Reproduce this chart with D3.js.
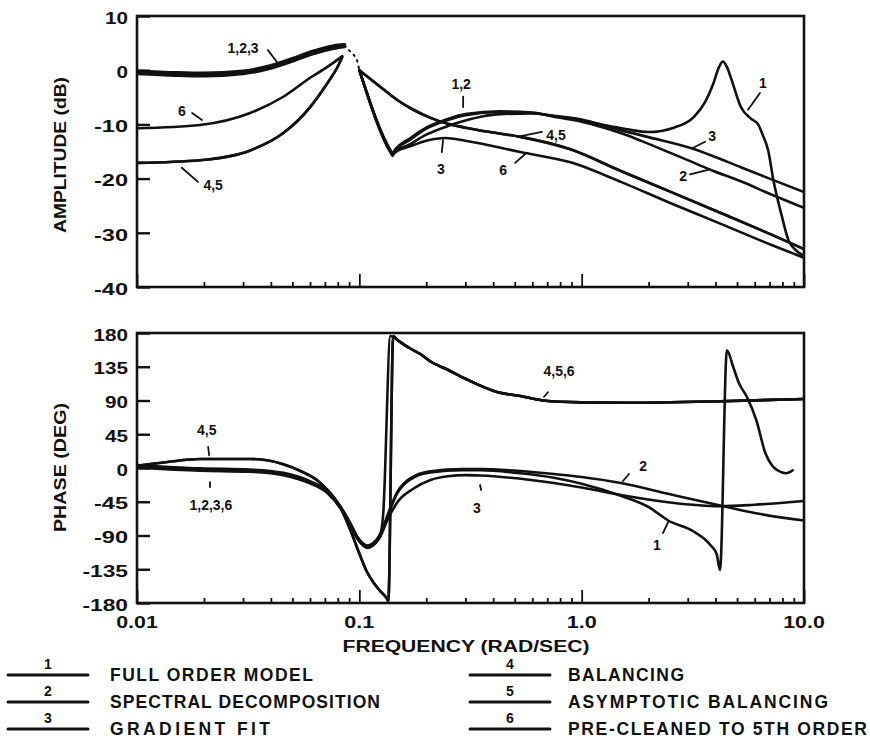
<!DOCTYPE html>
<html>
<head>
<meta charset="utf-8">
<script src="https://cdn.jsdelivr.net/npm/d3@7"></script>
<style>
  body { margin: 0; background: #fff; }
  svg text { font-family: "Liberation Sans", Arial, sans-serif; font-weight: bold; fill: #111; }
</style>
</head>
<body>
<svg id="chart" width="870" height="744"></svg>
<script>
// ---------------- axis values ----------------
const freqMajor = [0.01, 0.1, 1, 10];
const freqLabels = ["0.01", "0.1", "1.0", "10.0"];
const ampTicks = [10, 0, -10, -20, -30, -40];
const phaseTicks = [180, 135, 90, 45, 0, -45, -90, -135, -180];

// ---------------- amplitude (dB) vs frequency (rad/sec) ----------------
// null marks a break in the drawn curve
const ampFull = [[0.01,-0.4],[0.015,-0.7],[0.02,-0.8],[0.03,-0.4],[0.04,0.6],[0.05,1.9],[0.06,3.1],[0.07,3.9],[0.08,4.4],[0.086,4.6], null,
  [0.1,0.0],[0.139,-15.2],[0.141,-15.6],[0.143,-15.2],[0.17,-12.8],[0.2,-10.8],[0.25,-9.2],[0.3,-8.3],[0.43,-7.7],[0.6,-7.9],[0.75,-8.5],[1.0,-9.2],[1.26,-10.1],[1.6,-10.9],[2.0,-11.4],[2.6,-10.6],[3.2,-8.6],[3.6,-5.8],[3.9,-2.6],[4.15,0.6],[4.32,1.6],[4.5,0.6],[4.7,-1.5],[5.2,-6.8],[5.8,-9.0],[6.2,-9.9],[6.5,-11.8],[6.9,-14.8],[7.3,-20.5],[7.9,-26.5],[8.5,-31.3],[9.3,-33.4],[10,-34.2]];
const ampSpectral = [[0.01,-0.1],[0.015,-0.4],[0.02,-0.5],[0.03,-0.1],[0.04,0.9],[0.05,2.2],[0.06,3.4],[0.07,4.2],[0.08,4.7],[0.086,4.8], null,
  [0.1,0.0],[0.139,-15.0],[0.141,-15.4],[0.143,-15.0],[0.17,-12.5],[0.2,-10.6],[0.25,-9.0],[0.3,-8.1],[0.43,-7.6],[0.6,-7.8],[0.75,-8.6],[1.0,-9.5],[1.26,-10.6],[1.6,-12.0],[2.0,-13.6],[3.0,-16.6],[3.81,-18.4],[5.2,-20.5],[7.0,-22.8],[10,-25.4]];
const ampGradient = [[0.01,-0.7],[0.015,-1.0],[0.02,-1.1],[0.03,-0.7],[0.04,0.3],[0.05,1.6],[0.06,2.8],[0.07,3.6],[0.08,4.1],[0.086,4.3], null,
  [0.1,0.0],[0.139,-15.4],[0.141,-15.8],[0.143,-15.4],[0.17,-13.6],[0.2,-11.9],[0.25,-10.3],[0.3,-9.3],[0.36,-8.5],[0.43,-8.1],[0.6,-8.0],[0.75,-8.4],[1.0,-9.1],[1.26,-10.3],[1.98,-12.3],[3.17,-14.5],[3.81,-15.7],[5.2,-17.9],[7.0,-20.0],[10,-22.5]];
const ampBalancing = [[0.01,-17.1],[0.0192,-16.6],[0.0323,-14.8],[0.0455,-11.6],[0.0601,-6.8],[0.0718,-2.4],[0.0796,0.5],[0.0837,2.4], null,
  [0.1,0.0],[0.1245,-3.1],[0.148,-5.5],[0.175,-7.3],[0.209,-8.8],[0.25,-9.9],[0.3,-10.6],[0.4,-11.5],[0.53,-12.3],[0.89,-14.6],[1.5,-18.6],[2.5,-22.4],[4.2,-26.3],[7.1,-30.3],[10,-33.0]];
const ampAsymptotic = [[0.01,-17.1],[0.0192,-16.6],[0.0323,-14.8],[0.0455,-11.6],[0.0601,-6.8],[0.0718,-2.4],[0.0796,0.5],[0.0837,2.4], null,
  [0.1,0.0],[0.1245,-3.1],[0.148,-5.5],[0.175,-7.3],[0.209,-8.8],[0.25,-9.9],[0.3,-10.6],[0.4,-11.5],[0.53,-12.3],[0.89,-14.6],[1.5,-18.6],[2.5,-22.4],[4.2,-26.3],[7.1,-30.3],[10,-33.0]];
const ampPreCleaned = [[0.01,-10.7],[0.0192,-10.1],[0.0323,-7.9],[0.0455,-4.9],[0.0601,-1.4],[0.0718,0.6],[0.0796,1.9],[0.0837,2.6], null,
  [0.1,0.0],[0.139,-15.2],[0.141,-15.6],[0.143,-15.3],[0.17,-14.0],[0.2,-13.0],[0.244,-12.5],[0.3,-13.0],[0.53,-15.1],[0.89,-17.0],[1.5,-20.6],[2.5,-24.5],[4.2,-28.3],[7.1,-32.2],[10,-34.6]];
// faint dotted stretch across the resonance
const ampResonanceGap = [[0.086,4.6],[0.0893,3.8],[0.094,2.9],[0.098,1.6],[0.1,0.0]];

// ---------------- phase (deg) vs frequency (rad/sec) ----------------
const phFull = [[0.01,2],[0.0192,-2],[0.0323,-3.5],[0.0455,-8],[0.06,-19],[0.0718,-32],[0.082,-52],[0.0915,-76],[0.098,-93],[0.104,-102],[0.108,-105],[0.115,-102],[0.124,-90],[0.1335,-66],[0.14,-50],[0.148,-34],[0.16,-21],[0.18,-11],[0.209,-6],[0.29,-3],[0.35,-3],[0.53,-7],[0.75,-13],[1.0,-21],[1.5,-37],[2.0,-52],[2.45,-70],[3.2,-85],[3.8,-103],[4.05,-115],[4.19,-136],[4.5,157],[4.8,135],[5.1,113],[5.53,95],[6.1,64],[6.7,20],[7.2,3],[7.6,-3],[8.3,-7],[8.9,-3]];
const phSpectral = [[0.01,4],[0.0192,-0.5],[0.0323,-2],[0.0455,-6.5],[0.06,-17.5],[0.0718,-30.5],[0.082,-50.5],[0.0915,-74.5],[0.098,-91.5],[0.104,-100.5],[0.108,-103.5],[0.115,-100.5],[0.124,-88],[0.1335,-64],[0.14,-48],[0.148,-32],[0.16,-19.5],[0.18,-9.5],[0.209,-4.5],[0.29,-1.5],[0.35,-1.5],[0.53,-4],[0.75,-8],[1.0,-12],[1.5,-20],[2.5,-35],[4.2,-50],[6.0,-60],[10,-70]];
const phGradient = [[0.01,0.5],[0.0192,-3.5],[0.0323,-5],[0.0455,-9.5],[0.06,-20.5],[0.0718,-33.5],[0.082,-53.5],[0.0915,-77.5],[0.098,-94.5],[0.104,-103.5],[0.108,-106.5],[0.115,-103.5],[0.124,-92],[0.1335,-70],[0.14,-58],[0.148,-46],[0.174,-28],[0.209,-16],[0.25,-11],[0.3,-9.5],[0.35,-10],[0.59,-16],[0.75,-20],[1.0,-26],[1.5,-36],[2.5,-46],[4.2,-51],[6.0,-49],[10,-44]];
const phBalancing = [[0.01,3],[0.0137,8],[0.0192,12],[0.0323,12],[0.0455,5],[0.0543,-4],[0.065,-17],[0.0718,-29],[0.082,-52],[0.0915,-84],[0.1,-114],[0.108,-138],[0.116,-153],[0.124,-164],[0.1335,-175],[0.135,-178],[0.142,176],[0.148,171],[0.17,159],[0.188,152],[0.209,142],[0.25,131],[0.3,119],[0.42,101],[0.53,96],[0.67,90],[1.0,87.5],[1.5,87],[4.2,89],[10,92]];
const phAsymptotic = [[0.01,3],[0.0137,8],[0.0192,12],[0.0323,12],[0.0455,5],[0.0543,-4],[0.065,-17],[0.0718,-29],[0.082,-52],[0.0915,-84],[0.1,-114],[0.108,-138],[0.116,-153],[0.124,-164],[0.1335,-175],[0.135,-178],[0.142,176],[0.148,171],[0.17,159],[0.188,152],[0.209,142],[0.25,131],[0.3,119],[0.42,101],[0.53,96],[0.67,90],[1.0,87.5],[1.5,87],[4.2,89],[10,92]];
const phPreCleaned = [[0.01,2],[0.0192,-2],[0.0323,-3.5],[0.0455,-8],[0.06,-19],[0.0718,-32],[0.082,-52],[0.0915,-76],[0.098,-93],[0.104,-102],[0.108,-105],[0.115,-102],[0.124,-90],[0.128,-62],[0.138,176],[0.148,171],[0.17,159],[0.188,152],[0.209,142],[0.25,131],[0.3,119],[0.42,101],[0.53,96],[0.67,90],[1.0,87.5],[1.5,87],[4.2,89],[10,92]];

// ---------------- legend ----------------
const methodIds = ["1", "2", "3", "4", "5", "6"];
const methodNames = ["FULL ORDER MODEL", "SPECTRAL DECOMPOSITION", "GRADIENT FIT",
                     "BALANCING", "ASYMPTOTIC BALANCING", "PRE-CLEANED TO 5TH ORDER"];
const methodNameWidths = [203, 270, 160, 116, 260, 299];

// ---------------- curve call-outs (frequency, value) ----------------
const ampCallouts = [
  { t: "1,2,3", f: 0.0300, v: 3.2,   lead: [[0.0388, 3.7], [0.0426, 1.5]] },
  { t: "6",     f: 0.0159, v: -8.5,  lead: [[0.0177, -7.9], [0.0196, -9.2]] },
  { t: "4,5",   f: 0.0220, v: -22.1, lead: [[0.0159, -18.0], [0.0188, -20.6]] },
  { t: "1,2",   f: 0.287,  v: -3.5,  lead: [[0.293, -4.9], [0.293, -6.8]] },
  { t: "3",     f: 0.233,  v: -19.2, lead: [[0.238, -12.9], [0.235, -15.1]] },
  { t: "6",     f: 0.443,  v: -19.3, lead: [[0.502, -17.1], [0.556, -15.5]] },
  { t: "4,5",   f: 0.767,  v: -12.9, lead: [[0.663, -11.4], [0.512, -12.3]] },
  { t: "3",     f: 3.86,   v: -13.1, lead: [[3.59, -13.2], [3.14, -14.4]] },
  { t: "2",     f: 2.86,   v: -20.4, lead: [[3.07, -19.2], [3.70, -18.4]] },
  { t: "1",     f: 6.54,   v: -3.3,  lead: [[6.34, -4.2], [5.60, -7.3]] }
];
const phaseCallouts = [
  { t: "4,5",     f: 0.0206, v: 44,   lead: [[0.0209, 28], [0.0211, 17]] },
  { t: "1,2,3,6", f: 0.0215, v: -56,  lead: [[0.0213, -18.7], [0.0213, -25.3]] },
  { t: "4,5,6",   f: 0.791,  v: 122.7, lead: [[0.706, 101], [0.677, 95]] },
  { t: "3",       f: 0.338,  v: -60,  lead: [[0.349, -22.7], [0.353, -29.3]] },
  { t: "2",       f: 1.89,   v: -4,   lead: [[1.633, -8], [1.534, -17.3]] },
  { t: "1",       f: 2.18,   v: -109, lead: [[2.32, -86.7], [2.45, -72]] }
];

// ---------------- drawing ----------------
const ink = "#111";
const left = 137, right = 804;
const ampTop = 16, ampBottom = 287, phTop = 333, phBottom = 603;

const svg = d3.select("#chart");
svg.append("rect").attr("width", 870).attr("height", 744).attr("fill", "#fff");

const x = d3.scaleLog().domain([0.01, 10]).range([left, right]);
const yA = d3.scaleLinear().domain([-40, 10]).range([ampBottom, ampTop]);
const yP = d3.scaleLinear().domain([-180, 180]).range([phBottom, phTop]);

const charW = { "-": 11, ".": 7 };
const numWidth = s => Array.from(s).reduce((a, c) => a + (charW[c] || 11.5), 0);

const defs = svg.append("defs");
[["clipAmp", ampTop, ampBottom], ["clipPh", phTop, phBottom]].forEach(([id, t, b]) => {
  defs.append("clipPath").attr("id", id).append("rect")
    .attr("x", left).attr("y", t - 2).attr("width", right - left).attr("height", b - t + 4);
});

function drawPanel(y, ticks, top, bottom, clipId, series, gap, callouts) {
  // curves
  const line = d3.line().defined(d => d !== null)
    .x(d => x(d[0])).y(d => y(d[1])).curve(d3.curveMonotoneX);
  const g = svg.append("g").attr("clip-path", `url(#${clipId})`);
  series.forEach(s => {
    g.append("path").attr("d", line(s)).attr("fill", "none").attr("stroke", ink)
      .attr("stroke-width", 2.6).attr("stroke-linejoin", "round").attr("stroke-linecap", "round");
  });
  if (gap) {
    g.append("path").attr("d", line(gap)).attr("fill", "none").attr("stroke", ink)
      .attr("stroke-width", 2).attr("stroke-dasharray", "1.5,5").attr("stroke-linecap", "round");
  }

  // left ticks and labels
  const ay = svg.append("g").attr("transform", `translate(${left},0)`)
    .call(d3.axisLeft(y).tickValues(ticks).tickSize(-13).tickPadding(9).tickFormat(d => String(d)));
  ay.attr("font-family", null).attr("font-size", null);
  ay.select(".domain").remove();
  ay.selectAll(".tick line").attr("stroke", ink).attr("stroke-width", 2.4);
  ay.selectAll(".tick text").attr("fill", ink).attr("font-size", 16).attr("dy", "0.45em")
    .attr("textLength", d => numWidth(String(d))).attr("lengthAdjust", "spacingAndGlyphs");

  // bottom log ticks
  const isMajor = d => Math.abs(Math.log10(d) - Math.round(Math.log10(d))) < 1e-6;
  const ax = svg.append("g").attr("transform", `translate(0,${bottom})`)
    .call(d3.axisBottom(x).tickValues(x.ticks()).tickSize(-5).tickFormat(""));
  ax.select(".domain").remove();
  ax.selectAll(".tick line").attr("stroke", ink).attr("stroke-width", 1.8)
    .attr("y2", d => isMajor(d) ? -13 : -5);

  // frame
  svg.append("rect").attr("x", left).attr("y", top).attr("width", right - left).attr("height", bottom - top)
    .attr("fill", "none").attr("stroke", ink).attr("stroke-width", 2.6);

  // call-outs
  callouts.forEach(c => {
    svg.append("text").attr("x", x(c.f)).attr("y", y(c.v)).attr("text-anchor", "middle")
      .attr("font-size", 14).text(c.t);
    svg.append("line").attr("x1", x(c.lead[0][0])).attr("y1", y(c.lead[0][1]))
      .attr("x2", x(c.lead[1][0])).attr("y2", y(c.lead[1][1]))
      .attr("stroke", ink).attr("stroke-width", 1.8).attr("stroke-linecap", "round");
  });
}

drawPanel(yA, ampTicks, ampTop, ampBottom, "clipAmp",
  [ampFull, ampSpectral, ampGradient, ampBalancing, ampAsymptotic, ampPreCleaned],
  ampResonanceGap, ampCallouts);
drawPanel(yP, phaseTicks, phTop, phBottom, "clipPh",
  [phFull, phSpectral, phGradient, phBalancing, phAsymptotic, phPreCleaned],
  null, phaseCallouts);

// frequency labels
freqMajor.forEach((f, i) => {
  svg.append("text").attr("x", x(f)).attr("y", 628).attr("text-anchor", "middle")
    .attr("font-size", 16).attr("textLength", numWidth(freqLabels[i]))
    .attr("lengthAdjust", "spacingAndGlyphs").text(freqLabels[i]);
});

// axis titles
svg.append("text").attr("x", 466).attr("y", 652).attr("text-anchor", "middle")
  .attr("font-size", 16).attr("textLength", 247).attr("lengthAdjust", "spacingAndGlyphs")
  .text("FREQUENCY (RAD/SEC)");
svg.append("text").attr("transform", `translate(66,${(77 + 233) / 2}) rotate(-90)`)
  .attr("text-anchor", "middle").attr("font-size", 17)
  .attr("textLength", 156).attr("lengthAdjust", "spacingAndGlyphs").text("AMPLITUDE (dB)");
svg.append("text").attr("transform", `translate(66,${(403 + 532) / 2}) rotate(-90)`)
  .attr("text-anchor", "middle").attr("font-size", 17)
  .attr("textLength", 129).attr("lengthAdjust", "spacingAndGlyphs").text("PHASE (DEG)");

// legend
const legendRows = [675, 702, 729];
methodIds.forEach((id, i) => {
  const col = i < 3 ? 0 : 1;
  const row = legendRows[i % 3];
  const x0 = col ? 470 : 8, x1 = col ? 550 : 88, tx = col ? 568 : 110;
  svg.append("line").attr("x1", x0).attr("x2", x1).attr("y1", row).attr("y2", row)
    .attr("stroke", ink).attr("stroke-width", 3).attr("stroke-linecap", "round");
  svg.append("text").attr("x", (x0 + x1) / 2).attr("y", row - 6).attr("text-anchor", "middle")
    .attr("font-size", 14).text(id);
  svg.append("text").attr("x", tx).attr("y", row + 6).attr("font-size", 17.5)
    .attr("textLength", methodNameWidths[i]).attr("lengthAdjust", "spacing")
    .text(methodNames[i]);
});
</script>
</body>
</html>
